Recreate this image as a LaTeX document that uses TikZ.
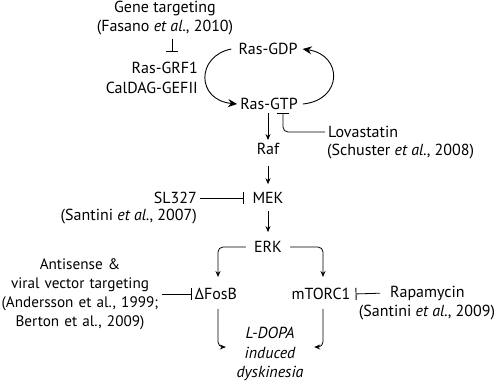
\documentclass[tikz,border=0pt]{standalone}
\usepackage{fontspec}
\setmainfont{PT Sans}
\usetikzlibrary{arrows.meta}
\begin{document}
\begin{tikzpicture}[x=1pt,y=-1pt,
  every node/.style={font=\fontsize{16pt}{19pt}\selectfont, inner sep=3pt},
  arr/.style={draw, line width=0.8pt, -{Stealth[length=6pt,width=5pt]}},
  big/.style={draw, line width=0.9pt, -{Stealth[length=9pt,width=8pt,inset=3pt]}},
  inh/.style={draw, line width=0.8pt, -{Bar[width=12pt,line width=0.9pt]}},
]
\useasboundingbox (0,0) rectangle (494,385);
% nodes
\node (gene) at (165,9) {Gene targeting};
\node (fas) at (165,28) {(Fasano \textit{et al.}, 2010)};
\coordinate (gbar) at (172,52);
\node[anchor=east] (grf) at (201,68) {Ras-GRF1};
\node[anchor=east] (cal) at (201,88) {CalDAG-GEFII};
\node (gdp) at (268,49) {Ras-GDP};
\node (gtp) at (269,104) {Ras-GTP};
\node (raf) at (268,149) {Raf};
\node[anchor=west] (lov) at (325,132) {Lovastatin};
\node[anchor=west] (sch) at (324,152) {(Schuster \textit{et al.}, 2008)};
\node (mek) at (268,198) {MEK};
\node[anchor=east] (sl) at (200,198) {SL327};
\node[anchor=east] (san1) at (200,217) {(Santini \textit{et al.}, 2007)};
\node[inner xsep=8pt] (erk) at (268,247) {ERK};
\node (fosb) at (216,294) {ΔFosB};
\node (mtor) at (321,294) {mTORC1};
\node[text width=160pt, align=center, font=\fontsize{15.2pt}{19pt}\selectfont] (anti) at (80,294) {Antisense \&\\viral vector targeting\\(Andersson et al., 1999;\\Berton et al., 2009)};
\node[anchor=west] (rapa) at (387,293) {Rapamycin};
\node (san2) at (427,313) {(Santini \textit{et al.}, 2009)};
\node[text width=70pt, align=center, font=\fontsize{16pt}{19.5pt}\selectfont\itshape] (ld) at (270,354) {L-DOPA\\induced\\dyskinesia};
% connectors
\draw[inh] (fas.south -| gbar) -- (gbar);
\draw[big] ([xshift=-4pt]gdp.west) .. controls (196,56) and (196,100) .. (gtp.west);
\draw[big] ([xshift=2pt]gtp.east) .. controls (343,100) and (343,55) .. ([xshift=2pt]gdp.east);
\draw[arr] (raf.north |- gtp.south) -- (raf.north);
\draw[inh, rounded corners=5pt] (lov.west) -| ([xshift=14pt]gtp.south);
\draw[arr, shorten <=8pt, shorten >=5pt] (raf) -- (mek);
\draw[inh, shorten >=5pt] (sl.east) -- (mek.west);
\draw[arr, shorten <=4pt, shorten >=6pt] (mek) -- (erk);
\draw[arr, rounded corners=5pt, shorten >=8pt] (erk.west) -| ([xshift=2pt]fosb.north);
\draw[arr, rounded corners=5pt, shorten >=8pt] (erk.east) -| ([xshift=2pt]mtor.north);
\draw[arr, rounded corners=5pt, shorten <=6pt, shorten >=6pt] ([xshift=2pt]fosb.south) |- ([yshift=7pt]ld.west);
\draw[arr, rounded corners=5pt, shorten <=6pt, shorten >=6pt] ([xshift=2pt]mtor.south) |- ([yshift=7pt]ld.east);
\draw[inh] ([xshift=-1pt]anti.east) -- (fosb.west);
\draw[inh, shorten <=7pt, shorten >=2pt] (rapa.west) -- (mtor.east);
\end{tikzpicture}
\end{document}
